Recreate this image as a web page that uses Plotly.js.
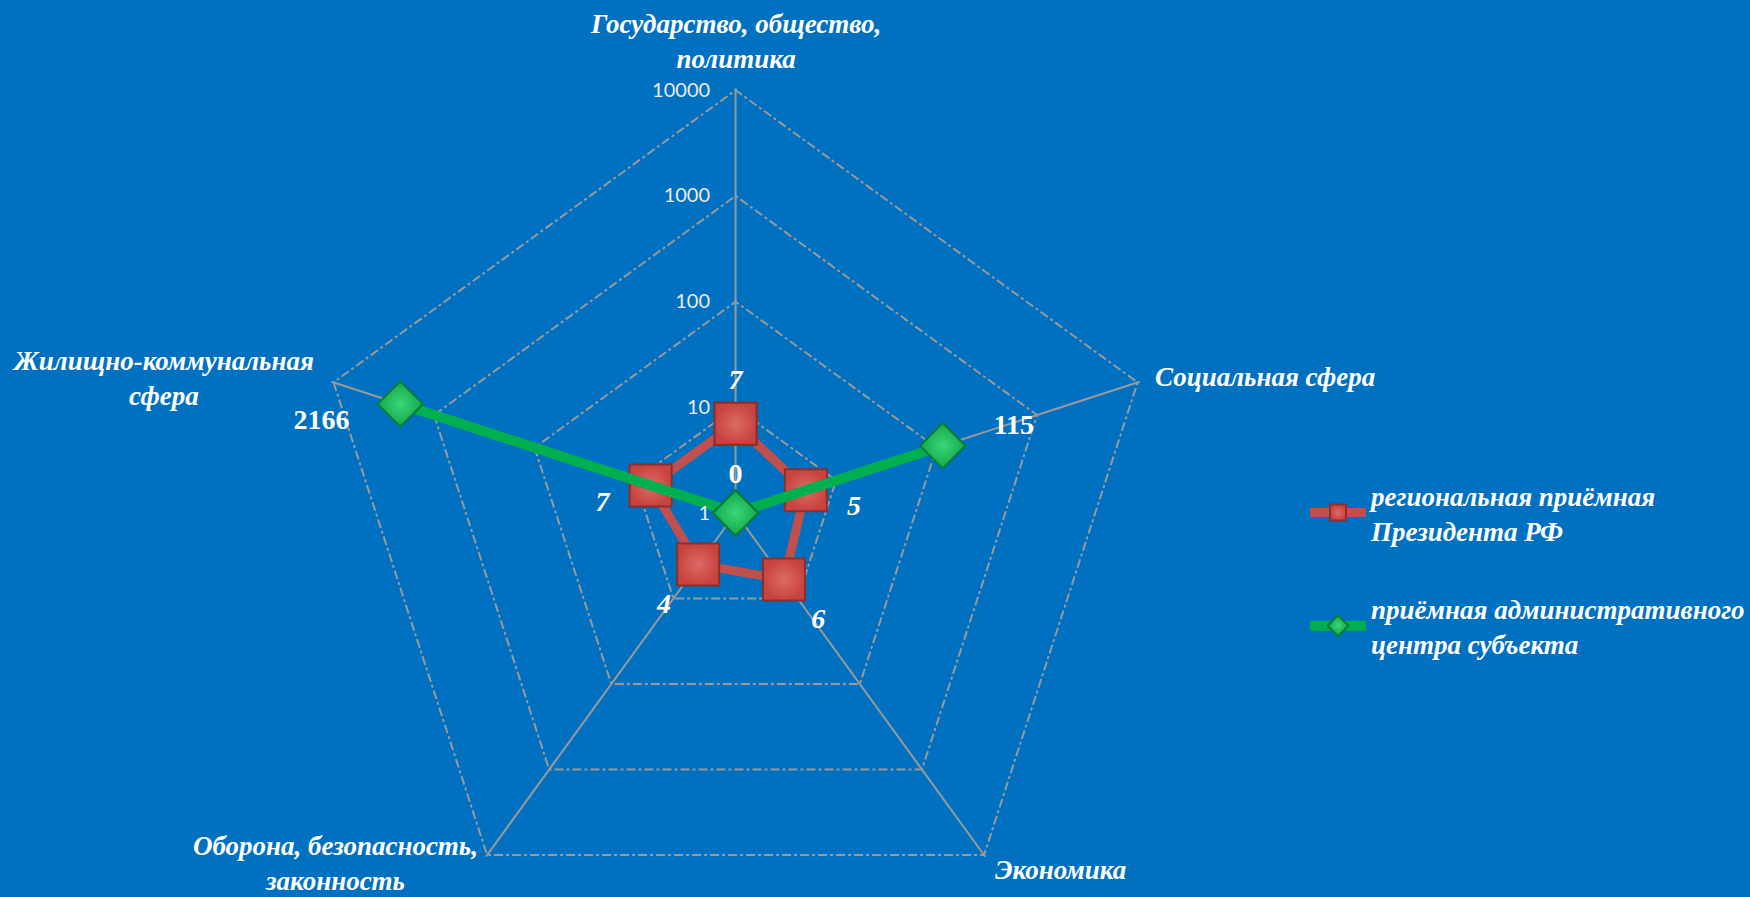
<!DOCTYPE html>
<html><head><meta charset="utf-8">
<script src="https://cdn.plot.ly/plotly-3.0.1.min.js"></script>
<style>html,body{margin:0;padding:0;overflow:hidden;background:#0070C0}</style>
</head><body><div id="chart"></div>
<script>
const categories = ['Государство, общество,<br>политика', 'Социальная сфера', 'Экономика', 'Оборона, безопасность,<br>законность', 'Жилищно-коммунальная<br>сфера'];
const seriesNames = ['региональная приёмная<br>Президента РФ', 'приёмная административного<br>центра субъекта'];
const presidentValues = [7, 5, 6, 4, 7];
const adminCenterValues = [0, 115, null, null, 2166];
const radialTickVals = [1, 10, 100, 1000, 10000];
const radialTickText = ['1', '10', '100', '1000', '10000'];

// log axis cannot show 0: like Excel, a 0 sits at the axis floor (1)
function toPlot(v) { return v === null ? null : Math.max(v, 1 + 1e-9); }
function closed(arr) { return arr.concat([arr[0]]); }
// label layout helpers: 'L' lead em space, 'l' lead en space, 'R'/'r' trail em/en space, 'd' push down half a line, 'u' push up half a line
function fmt(v, f) {
  if (v === null) return '';
  let s = String(v);
  if (f.includes('L')) s = '\u2003' + s;
  if (f.includes('l')) s = '\u2002' + s;
  if (f.includes('R')) s = s + '\u2003';
  if (f.includes('r')) s = s + '\u2002';
  if (f.includes('d')) s = '\u00A0<br>' + s;
  if (f.includes('u')) s = s + '<br>\u00A0';
  return s;
}
function labels(arr, fl) { return arr.map((v, i) => fmt(v, fl[i])).concat(['']); }

const thetaClosed = closed(categories);

const tracePresident = {
  type: 'scatterpolar', mode: 'lines+markers+text',
  name: seriesNames[0], legendgroup: 'a',
  r: closed(presidentValues.map(toPlot)), theta: thetaClosed,
  text: labels(presidentValues, ['', 'ld', '', '', 'rd']),
  textposition: ['top center', 'middle right', 'bottom right', 'bottom left', 'middle left', 'top center'],
  textfont: {family: 'Liberation Serif', size: 28, color: '#FFFFFF', weight: 'bold', style: 'italic'},
  line: {color: '#C0504D', width: 9},
  marker: {symbol: 'square', size: 42, color: '#C8433F', gradient: {type: 'radial', color: '#DC6A66'}, line: {color: '#8C2F2C', width: 2}},
  cliponaxis: false, hoverinfo: 'skip'
};
const traceAdmin = {
  type: 'scatterpolar', mode: 'lines+markers+text',
  name: seriesNames[1], legendgroup: 'b',
  r: closed(adminCenterValues.map(toPlot)), theta: thetaClosed,
  text: labels(adminCenterValues, ['', 'Lu', '', '', 'Rd']),
  textposition: ['top center', 'middle right', 'middle center', 'middle center', 'middle left', 'top center'],
  textfont: {family: 'Liberation Serif', size: 28, color: '#FFFFFF', weight: 'bold'},
  line: {color: '#00B050', width: 10},
  marker: {symbol: 'diamond', size: 35, color: '#11A84B', gradient: {type: 'radial', color: '#3CD676'}, line: {color: '#0A7A3A', width: 2}},
  connectgaps: false, cliponaxis: false, hoverinfo: 'skip'
};

const W = 1750, H = 1030;
const cx = 736, R0 = 423, rMax = 4.02;
const R = R0 * rMax / 4;
const TT = 513 - R;
const B = H - TT - 2 * R;
function px(x, y) { return {x: x / W, y: (TT + 2 * R - y) / (2 * R)}; }

const labelFont = {family: 'Liberation Serif', size: 27, color: '#FFFFFF', weight: 'bold', style: 'italic'};
const labelSpots = [
  {p: [736, 41], xa: 'center'},
  {p: [1154, 377], xa: 'left'},
  {p: [994, 870], xa: 'left'},
  {p: [480, 864], xa: 'right'},
  {p: [316, 378], xa: 'right'}
];
const annotations = categories.map((c, i) => {
  const q = px(labelSpots[i].p[0], labelSpots[i].p[1]);
  return {text: c, xref: 'paper', yref: 'paper', x: q.x, y: q.y, xanchor: labelSpots[i].xa, yanchor: 'middle',
          align: 'center', showarrow: false, font: labelFont};
});

const legPos = px(1306, 471);
const layout = {
  width: W, height: H,
  margin: {l: 0, r: 0, t: TT, b: B, pad: 0},
  paper_bgcolor: '#0070C0', plot_bgcolor: '#0070C0',
  showlegend: true,
  annotations: annotations,
  legend: {
    x: legPos.x, y: legPos.y, xanchor: 'left', yanchor: 'top',
    bgcolor: 'rgba(0,0,0,0)', traceorder: 'grouped', tracegroupgap: 40, itemwidth: 56,
    font: {family: 'Liberation Serif', size: 27, color: '#FFFFFF', weight: 'bold', style: 'italic'}
  },
  polar: {
    domain: {x: [(cx - R) / W, (cx + R) / W], y: [0, 1]},
    bgcolor: '#0070C0', gridshape: 'linear',
    radialaxis: {
      type: 'log', range: [0, rMax], angle: 90, side: 'counterclockwise',
      tickvals: radialTickVals, ticktext: radialTickText,
      showline: false, ticks: 'outside', ticklen: 18, tickcolor: 'rgba(0,0,0,0)', showgrid: true,
      gridcolor: '#9A9A9A', gridwidth: 2, griddash: 'dashdot',
      tickfont: {family: 'Lato', size: 20, color: '#EAEAEA'}, tickangle: 90
    },
    angularaxis: {
      type: 'category', rotation: 90, direction: 'clockwise',
      categoryarray: categories, showticklabels: false,
      showline: false, showgrid: true, gridcolor: '#9A9A9A', gridwidth: 2, griddash: 'solid',
      ticks: ''
    }
  }
};
Plotly.newPlot('chart', [tracePresident, traceAdmin], layout, {displayModeBar: false, staticPlot: true});
</script></body></html>
